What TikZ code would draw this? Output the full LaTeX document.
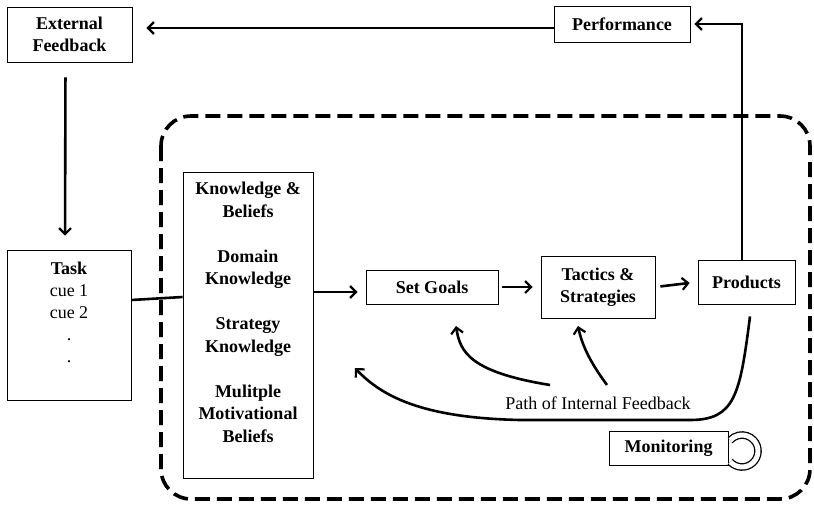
\documentclass[tikz,border=0pt]{standalone}
\usepackage{fontspec}
\setmainfont{Liberation Serif}
\usetikzlibrary{arrows.meta}

\begin{document}
\begin{tikzpicture}[x=1pt, y=-1pt, font=\fontsize{18}{22}\selectfont,
    box/.style={draw, line width=0.8pt, align=center, inner sep=0pt, font=\fontsize{18}{22}\selectfont\bfseries},
    arr/.style={line width=2.6pt, -{Straight Barb[length=6pt, width=12pt, line width=2.2pt]}},
    >=stealth]
    \useasboundingbox (0,0) rectangle (814,509);
    % dashed frame
    \draw[line width=3.6pt, dash pattern=on 15pt off 7pt, rounded corners=30pt] (161,116) rectangle (810,499);
    % boxes
    \node[box, minimum width=125, minimum height=55] (ext) at (69.5,34.5) {External\\Feedback};
    \node[box, minimum width=136, minimum height=36] (perf) at (622,24) {Performance};
    \node[box, minimum width=124, minimum height=150] (task) at (69,325) {};
    \node[anchor=north, align=center, inner sep=0pt] (tasktext) at (69,262) {\textbf{Task}\\cue 1\\cue 2\\.\\.};
    \node[box, minimum width=130, minimum height=306] (know) at (248,325) {};
    \node[anchor=north, align=center, inner sep=0pt, font=\fontsize{18}{22.5}\selectfont\bfseries] (knowtext) at (248,182)
        {Knowledge \&\\Beliefs\\[22.5pt]Domain\\Knowledge\\[22.5pt]Strategy\\Knowledge\\[22.5pt]Mulitple\\Motivational\\Beliefs};
    \node[box, minimum width=132, minimum height=34] (goals) at (432,287) {Set Goals};
    \node[box, minimum width=114, minimum height=62] (tact) at (598,287) {Tactics \&\\Strategies};
    \node[box, minimum width=97, minimum height=44] (prod) at (746.5,282) {Products};
    \node[box, minimum width=119, minimum height=34] (mon) at (668.5,448) {Monitoring};
    \node (pathlbl) at (598,403) {Path of Internal Feedback};
    % monitoring loop
    \draw[line width=1.3pt, double=white, double distance=5pt] (742,451) ++(138:16) arc[start angle=138, end angle=-138, radius=16];
    % main flow
    \draw[line width=2.6pt] ([yshift=25pt]task.east) -- ([yshift=28pt]know.west);
    \draw[arr, shorten >=8pt] ([yshift=-5pt]know.east |- goals.west) -- ([yshift=-5pt]goals.west);
    \draw[arr, shorten <=4pt, shorten >=8pt] (goals.east) -- (tact.west);
    \draw[arr, shorten <=5pt, shorten >=8pt] (tact.east) -- (prod.west);
    % external loop
    \draw[arr, shorten >=4pt] ([xshift=-4.5pt]prod.north) |- (perf.east);
    \draw[arr, shorten >=14pt] ([yshift=-4pt]perf.west) -- ([yshift=-4pt]perf.west -| ext.east);
    \draw[arr, shorten <=15pt, shorten >=14pt] ([xshift=-4pt]ext.south) -- ([xshift=-4pt]task.north);
    % internal feedback
    \draw[arr] ([shift={(3.5pt,-12pt)}]prod.south) .. controls (740,395) and (735,420) .. (690,420)
        -- (520,420) .. controls (430,418) and (385,400) .. (355,368);
    \draw[arr] (550,385) .. controls (470,372) and (460,352) .. (456,326);
    \draw[arr] (607,385) .. controls (590,362) and (582,345) .. (578,326);
\end{tikzpicture}
\end{document}
